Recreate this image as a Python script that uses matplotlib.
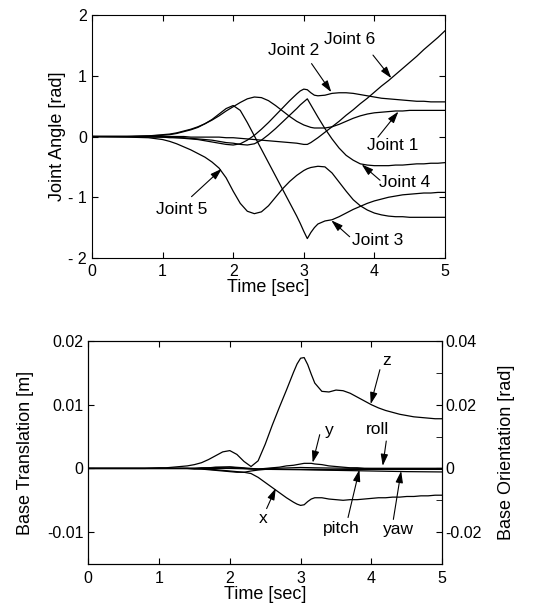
import numpy as np
import matplotlib
matplotlib.use('Agg')
import matplotlib.pyplot as plt

plt.rcParams['font.family'] = ['Liberation Sans', 'DejaVu Sans']
plt.rcParams['axes.unicode_minus'] = False

# time grid (sec)
t = [0.0, 0.5, 0.8, 1.0, 1.1, 1.2, 1.3, 1.4, 1.5, 1.6, 1.7, 1.8, 1.9, 2.0, 2.1, 2.2,
     2.3, 2.4, 2.5, 2.6, 2.7, 2.8, 2.9, 2.95, 3.0, 3.05, 3.1, 3.15, 3.2, 3.3, 3.4,
     3.5, 3.6, 3.7, 3.8, 3.9, 4.0, 4.1, 4.2, 4.3, 4.4, 4.5, 4.6, 4.7, 4.8, 4.9, 5.0]

# joint angles [rad]
joint1 = [0, 0, 0.01, 0.03, 0.04, 0.06, 0.09, 0.12, 0.16, 0.21, 0.27, 0.34, 0.42, 0.49, 0.56, 0.62,
          0.65, 0.64, 0.59, 0.51, 0.42, 0.33, 0.25, 0.22, 0.19, 0.17, 0.15, 0.14, 0.14, 0.14, 0.16,
          0.20, 0.25, 0.30, 0.34, 0.37, 0.39, 0.40, 0.41, 0.42, 0.42, 0.43, 0.43, 0.43, 0.43, 0.43, 0.43]
joint2 = [0, 0, -0.01, -0.01, -0.02, -0.02, -0.03, -0.04, -0.05, -0.07, -0.09, -0.11, -0.13, -0.14, -0.12, -0.06,
          0.02, 0.12, 0.23, 0.35, 0.47, 0.59, 0.70, 0.75, 0.78, 0.77, 0.72, 0.68, 0.67, 0.68, 0.71,
          0.72, 0.72, 0.71, 0.69, 0.67, 0.65, 0.63, 0.62, 0.61, 0.60, 0.59, 0.58, 0.58, 0.57, 0.57, 0.57]
joint3 = [0, 0, 0.01, 0.02, 0.03, 0.05, 0.08, 0.11, 0.15, 0.21, 0.28, 0.37, 0.46, 0.51, 0.43, 0.23,
          0.01, -0.21, -0.43, -0.65, -0.87, -1.09, -1.31, -1.43, -1.56, -1.68, -1.58, -1.50, -1.44, -1.39, -1.37,
          -1.32, -1.26, -1.20, -1.15, -1.10, -1.06, -1.03, -1.00, -0.98, -0.96, -0.95, -0.94, -0.93, -0.93, -0.92, -0.92]
joint4 = [0, 0, 0, -0.01, -0.01, -0.02, -0.02, -0.03, -0.04, -0.05, -0.06, -0.08, -0.10, -0.11, -0.13, -0.14,
          -0.12, -0.06, 0.03, 0.13, 0.24, 0.35, 0.46, 0.52, 0.57, 0.62, 0.52, 0.42, 0.32, 0.13, -0.04,
          -0.19, -0.31, -0.39, -0.45, -0.47, -0.48, -0.48, -0.48, -0.47, -0.47, -0.46, -0.45, -0.45, -0.44, -0.44, -0.43]
joint5 = [0, -0.01, -0.02, -0.05, -0.08, -0.12, -0.17, -0.22, -0.28, -0.34, -0.42, -0.52, -0.68, -0.90, -1.10, -1.23,
          -1.27, -1.24, -1.14, -1.00, -0.86, -0.74, -0.64, -0.60, -0.56, -0.53, -0.51, -0.50, -0.49, -0.50, -0.60,
          -0.75, -0.90, -1.04, -1.14, -1.21, -1.26, -1.29, -1.31, -1.32, -1.32, -1.33, -1.33, -1.33, -1.33, -1.33, -1.33]
joint6 = [0, 0, 0, 0, 0, 0, 0, -0.01, -0.01, -0.01, -0.01, -0.01, -0.02, -0.02, -0.03, -0.04,
          -0.05, -0.06, -0.07, -0.08, -0.09, -0.10, -0.11, -0.12, -0.13, -0.13, -0.10, -0.06, -0.02, 0.07, 0.16,
          0.25, 0.35, 0.44, 0.54, 0.63, 0.73, 0.83, 0.92, 1.02, 1.12, 1.22, 1.32, 1.43, 1.53, 1.63, 1.74]

# base translation [m]
base_x = [0, 0, 0, 0, 0, 0, 0, 0, -0.0001, -0.0001, -0.0002, -0.0003, -0.0004, -0.0005, -0.0006, -0.0006,
          -0.0008, -0.0014, -0.0022, -0.0030, -0.0038, -0.0046, -0.0053, -0.0056, -0.0058, -0.0057, -0.0052, -0.0048, -0.0046, -0.0046, -0.0048,
          -0.0049, -0.0050, -0.0049, -0.0049, -0.0048, -0.0047, -0.0046, -0.0046, -0.0045, -0.0045, -0.0044, -0.0044, -0.0043, -0.0043, -0.0042, -0.0042]
base_y = [0, 0, 0, 0, 0, 0, 0, 0, 0, 0.0001, 0.0001, 0.0002, 0.0002, 0.0002, 0.0001, 0,
          -0.0001, -0.0001, 0, 0.0001, 0.0002, 0.0004, 0.0005, 0.0006, 0.0007, 0.0008, 0.0008, 0.0008, 0.0007, 0.0006, 0.0004,
          0.0003, 0.0002, 0.0001, 0.0001, 0, 0, 0, 0, 0, 0, 0, 0, 0, 0, 0, 0]
base_z = [0, 0, 0, 0.0001, 0.0001, 0.0002, 0.0003, 0.0004, 0.0006, 0.0009, 0.0014, 0.0020, 0.0026, 0.0028, 0.0022, 0.0011,
          0.0003, 0.0012, 0.0038, 0.0068, 0.0096, 0.0123, 0.0151, 0.0164, 0.0173, 0.0174, 0.0163, 0.0148, 0.0134, 0.0121, 0.0120,
          0.0123, 0.0122, 0.0118, 0.0112, 0.0106, 0.0100, 0.0095, 0.0091, 0.0088, 0.0085, 0.0083, 0.0081, 0.0080, 0.0079, 0.0078, 0.0078]

# base orientation [rad]
t_ori = [0.0, 1.5, 1.8, 2.0, 2.2, 2.3, 2.4, 2.5, 2.6, 3.0, 3.2, 3.5, 4.0, 4.5, 5.0]
roll = [0, 0, 0.0003, 0.0005, 0.0002, 0, -0.0002, -0.0001, 0, 0.0003, 0.0002, 0.0001, 0, 0, 0]
pitch = [0, 0, -0.0004, -0.0008, -0.0012, -0.0008, -0.0005, -0.0003, -0.0003, -0.0003, -0.0003, -0.0004, -0.0003, -0.0003, -0.0003]
yaw = [0, 0, 0, 0, -0.0001, -0.0001, -0.0002, -0.0002, -0.0003, -0.0004, -0.0005, -0.0006, -0.0008, -0.0010, -0.0011]

# tick labels, matlab style spacing
joint_ticks = ['- 2', '- 1', '0', '1', '2']
trans_ticks = ['-0.01', '0', '0.01', '0.02']
orient_ticks = ['-0.02', '0', '0.02', '0.04']

fig = plt.figure(figsize=(5.36, 6.12), dpi=100)
lw = 0.9
tick_fs = 11.5
lab_fs = 13
ann_fs = 12.5
arrow = dict(arrowstyle='-|>,head_length=0.7,head_width=0.22', color='k', lw=0.8,
             shrinkA=0, shrinkB=0)

# ---- joint angles
ax1 = fig.add_axes([0.1716, 0.5784, 0.6586, 0.3971])
for v in [joint1, joint2, joint3, joint4, joint5, joint6]:
    ax1.plot(t, v, 'k-', lw=lw)
ax1.set_xlim(0, 5)
ax1.set_ylim(-2, 2)
ax1.set_xticks([0, 1, 2, 3, 4, 5])
ax1.set_yticks([-2, -1, 0, 1, 2])
ax1.set_yticklabels(joint_ticks)
ax1.tick_params(direction='in', top=True, right=True, length=4, labelsize=tick_fs)
ax1.tick_params(axis='x', pad=4)
ax1.set_xlabel('Time [sec]', fontsize=lab_fs, labelpad=0)
ax1.set_ylabel('Joint Angle [rad]', fontsize=lab_fs, labelpad=2)

top_notes = [('Joint 6', (3.65, 1.60), (3.98, 1.34), (4.24, 0.96)),
             ('Joint 2', (2.85, 1.41), (3.11, 1.20), (3.39, 0.73)),
             ('Joint 1', (4.26, -0.15), (4.05, -0.01), (4.34, 0.41)),
             ('Joint 4', (4.43, -0.75), (4.08, -0.72), (3.82, -0.46)),
             ('Joint 3', (4.05, -1.71), (3.65, -1.65), (3.39, -1.38)),
             ('Joint 5', (1.27, -1.20), (1.41, -0.99), (1.84, -0.53))]
for txt, pos, tail, tip in top_notes:
    ax1.annotate('', xy=tip, xytext=tail, arrowprops=arrow)
    ax1.text(pos[0], pos[1], txt, fontsize=ann_fs, ha='center', va='center')

# ---- base motion
ax2 = fig.add_axes([0.1646, 0.0784, 0.6604, 0.3644])
for v in [base_x, base_y, base_z]:
    ax2.plot(t, v, 'k-', lw=lw)
ax2.set_xlim(0, 5)
ax2.set_ylim(-0.015, 0.02)
ax2.set_xticks([0, 1, 2, 3, 4, 5])
ax2.set_yticks([-0.01, 0, 0.01, 0.02])
ax2.set_yticklabels(trans_ticks)
ax2.tick_params(direction='in', top=True, length=4, labelsize=tick_fs)
ax2.tick_params(axis='x', pad=5)
ax2.set_xlabel('Time [sec]', fontsize=lab_fs, labelpad=0)
ax2.set_ylabel('Base Translation [m]', fontsize=lab_fs, labelpad=9)

ax3 = ax2.twinx()
for v in [roll, pitch, yaw]:
    ax3.plot(t_ori, v, 'k-', lw=lw)
ax3.set_ylim(-0.03, 0.04)
ax3.set_yticks([-0.02, 0, 0.02, 0.04])
ax3.set_yticklabels(orient_ticks)
ax3.set_yticks([-0.01, 0.01, 0.03], minor=True)
ax3.tick_params(which='both', direction='in', length=4, labelsize=tick_fs, pad=2)
ax3.set_ylabel('Base Orientation [rad]', fontsize=lab_fs, labelpad=12)

bot_notes = [('z', (4.21, 0.0169), (4.12, 0.0155), (3.99, 0.0101)),
             ('y', (3.41, 0.0059), (3.27, 0.0053), (3.17, 0.0009)),
             ('roll', (4.09, 0.0061), (4.21, 0.0043), (4.16, 0.0004)),
             ('x', (2.47, -0.0079), (2.52, -0.0063), (2.65, -0.0031)),
             ('pitch', (3.58, -0.0095), (3.67, -0.0077), (3.83, -0.0002)),
             ('yaw', (4.38, -0.0096), (4.31, -0.0080), (4.42, -0.0004))]
for txt, pos, tail, tip in bot_notes:
    ax2.annotate('', xy=tip, xytext=tail, arrowprops=arrow)
    ax2.text(pos[0], pos[1], txt, fontsize=ann_fs, ha='center', va='center')

fig.savefig('out.png', dpi=100)
